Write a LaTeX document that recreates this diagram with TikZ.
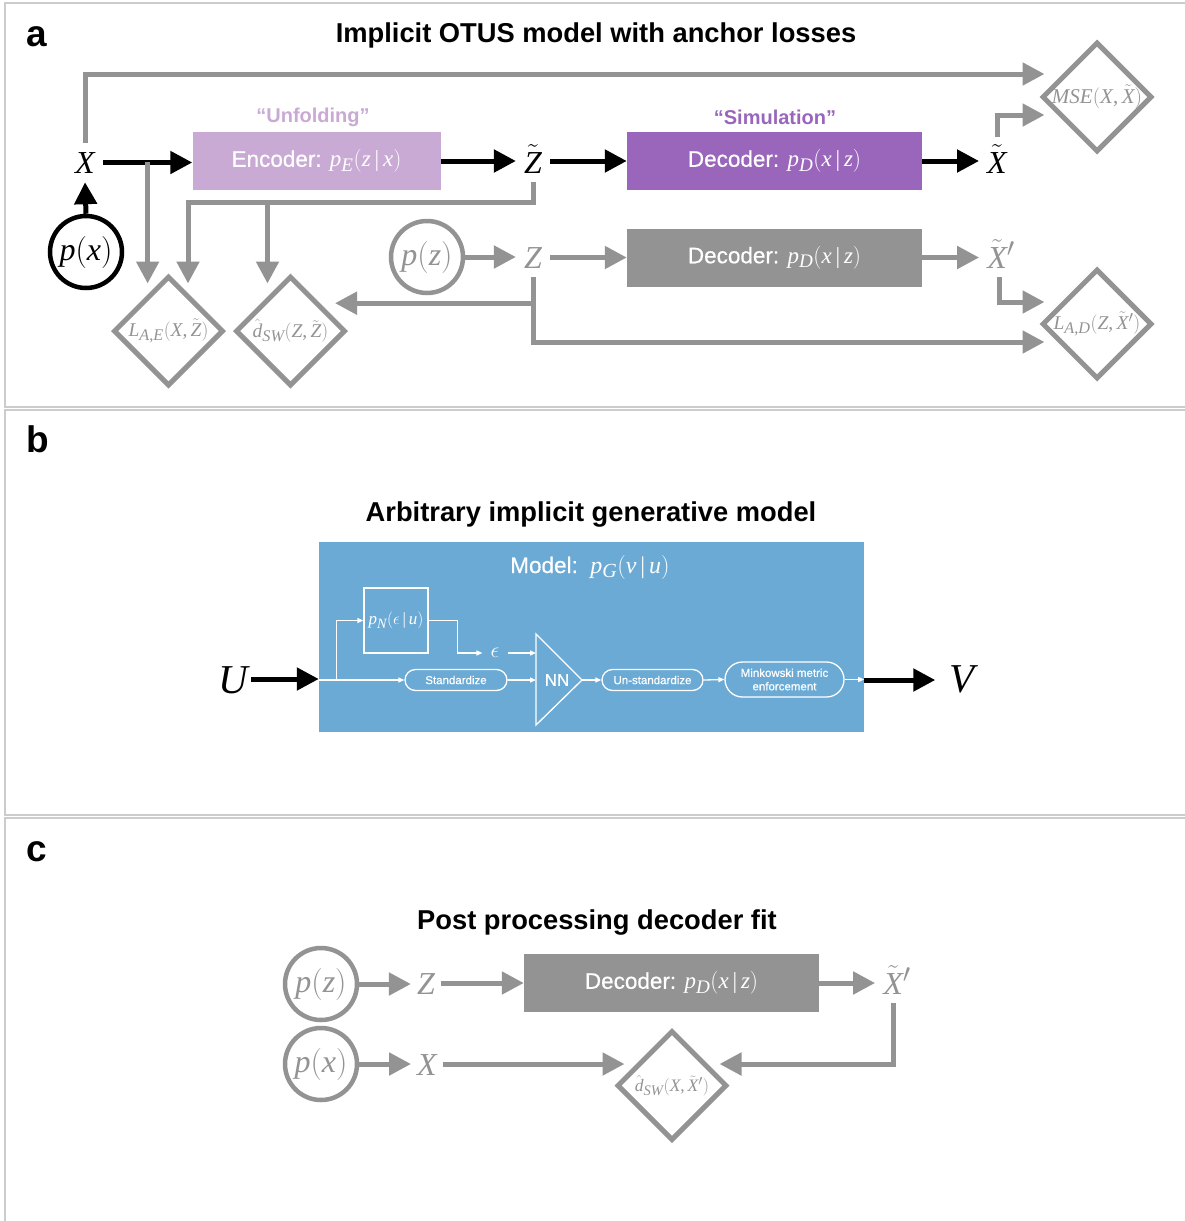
\RequirePackage{fix-cm}
\documentclass[tikz,border=0pt]{standalone}
\usepackage{fontspec}
\setmainfont{Liberation Serif}
\setsansfont{Liberation Sans}
\usepackage[italic]{mathastext}
\usetikzlibrary{arrows.meta,shapes.geometric,calc}

\definecolor{gry}{RGB}{147,147,147}
\definecolor{lilac}{RGB}{200,170,212}
\definecolor{purp}{RGB}{153,102,187}
\definecolor{skyb}{RGB}{107,170,213}
\definecolor{panelgray}{RGB}{204,204,204}

\newcommand\fsz[1]{\fontsize{#1}{#1}\selectfont}
\newcommand\zw[1]{\makebox[0pt]{#1}}
\newcommand\given{\,{|}\,}
\newcommand\medsans{\sffamily\addfontfeature{FakeBold=0.5}}

\tikzset{
  blk/.style={line width=5pt, black, -{Triangle[length=22pt,width=22pt]}},
  garr/.style={line width=5pt, gry, -{Triangle[length=22pt,width=22pt]}},
  warr/.style={line width=1.3pt, white, -{Triangle[length=6pt,width=5pt]}},
  wline/.style={line width=1.3pt, white},
  bigsym/.style={inner xsep=8pt, inner ysep=9pt, text height=21pt, text depth=0pt, font={\fsz{32}}, anchor=base},
  circ/.style={circle, line width=4.5pt, minimum size=72pt, inner sep=0pt, font={\fsz{32}}},
  blockbox/.style={minimum width=295pt, minimum height=58pt, inner sep=0pt, text=white, font={\medsans\fsz{22.5}}},
  dia/.style={diamond, draw=gry, line width=5pt, minimum width=110pt, minimum height=110pt, inner sep=0pt, text=gry, font={\fsz{19.5}}},
  plabel/.style={anchor=base west, inner sep=0pt, font={\sffamily\bfseries\fsz{37}}},
  ttl/.style={anchor=base, inner sep=0pt, font={\sffamily\bfseries\fsz{27.3}}},
  sublbl/.style={inner sep=0pt, font={\sffamily\bfseries\fsz{20}}},
  pill/.style={draw=white, line width=1.3pt, rounded corners=10.5pt, minimum width=102pt, minimum height=21pt, inner sep=0pt, text=white, font={\medsans\fontsize{11.5}{13.5}\selectfont}},
  wbox/.style={draw=white, line width=1.5pt, minimum width=64pt, minimum height=65pt, inner sep=0pt, text=white, font={\fsz{17}}},
  panel/.style={draw=panelgray, line width=1.3pt}
}

\begin{document}
\begin{tikzpicture}[x=1pt,y=-1pt]
\useasboundingbox (0,0) rectangle (1185,1221);

% panel frames
\draw[panel] (5,3) rectangle (1195,407);
\draw[panel] (5,410) rectangle (1195,815);
\draw[panel] (5,818) rectangle (1195,1235);

% ---------------- panel a ----------------
\node[plabel] (la) at (26,46) {a};
\node[ttl] (ta) at (596,42) {Implicit OTUS model with anchor losses};

\node[bigsym] (xa) at (85,173) {$X$};
\node[circ, draw=black] (pxa) at (86,252) {$p(x)$};
\node[blockbox, fill=lilac, minimum width=248pt] (enc) at (316.5,161) {Encoder: {\fsz{23}$p_E(z\given x)$}};
\node[bigsym, text height=27pt] (zta) at (533,173) {$\tilde Z$};
\node[blockbox, fill=purp] (deca) at (774.5,161) {Decoder: {\fsz{23}$p_D(x\given z)$}};
\node[bigsym, text height=27pt] (xta) at (997,173) {$\tilde X$};
\node[sublbl, text=lilac] (unf) at (313,117) {“Unfolding”};
\node[sublbl, text=purp] (sim) at (775,117) {“Simulation”};

\node[dia, font={\fsz{21}}] (mse) at (1097,97) {\zw{$MSE(X,\tilde X)$}};
\node[dia] (lae) at (168.5,331) {\zw{$L_{A,E}(X,\tilde Z)$}};
\node[dia] (dsw) at (290.5,331) {\zw{$\hat d_{SW}(Z,\tilde Z)$}};
\node[dia] (lad) at (1097,324) {\zw{$L_{A,D}(Z,\tilde X')$}};

\node[circ, draw=gry, text=gry] (pza) at (427,257) {$p(z)$};
\node[bigsym, text=gry] (za) at (533,268) {$Z$};
\node[blockbox, fill=gry] (gdec) at (774.5,257.5) {Decoder: {\fsz{23}$p_D(x\given z)$}};
\node[bigsym, text=gry, text height=27pt] (xtpa) at (1001,268) {$\tilde X'$};

% main (black) chain
\draw[blk] (pxa.north) -- (xa.south);
\draw[blk] (xa.east) -- (xa.east -| enc.west);
\draw[blk] (enc.east) -- (enc.east -| zta.west);
\draw[blk] (zta.east |- deca.west) -- (deca.west);
\draw[blk] (deca.east) -- (deca.east -| xta.west);

% loss inputs (grey)
\draw[garr] (xa.north) |- ($(mse.west)+(5,-23)$);
\draw[garr] (xta.north) |- ($(mse.west)+(5,18)$);
\coordinate (br) at ($(xa.east)!0.5!(enc.west)$);
\draw[garr] (br) -- ($(br |- lae.north)+(0,10)$);
\draw[garr] (zta.south) -- ++(0,20.5) -| ($(lae.north)+(19.5,10)$);
\draw[garr] ($(dsw.north)+(-23,-73.5)$) -- ($(dsw.north)+(-23,10)$);

% prior branch
\draw[garr] (pza.east) -- (pza.east -| za.west);
\draw[garr] (za.east |- gdec.west) -- (gdec.west);
\draw[garr] (gdec.east) -- (gdec.east -| xtpa.west);
\draw[garr] ($(xtpa.south)+(-2,0)$) |- ($(lad.west)+(5,-22)$);
\draw[garr] (za.south) |- ($(lad.west)+(5,18)$);
\coordinate (zb) at ($(za.south)+(0,26)$);
\coordinate (dswin) at ($(dsw.east)+(-13,0)$);
\draw[garr] (zb) -- (zb -| dswin);

% ---------------- panel b ----------------
\node[plabel] (lb) at (26,452) {b};
\node[ttl] (tb) at (591,521) {Arbitrary implicit generative model};
\node[fill=skyb, minimum width=545pt, minimum height=190pt, inner sep=0pt] (mdl) at (591.5,637) {};
\node[anchor=base, inner sep=0pt, text=white, font={\medsans\fsz{22.5}}] (mtitle) at (590,573) {Model:\ \ {\fsz{24}$p_G(v\given u)$}};

\node[anchor=base, inner xsep=3pt, inner ysep=9pt, text height=28pt, text depth=0pt, font={\fsz{41}}] (u) at (233,693) {$U$};
\node[anchor=base, inner xsep=14pt, inner ysep=9pt, text height=28pt, text depth=0pt, font={\fsz{41}}] (v) at (962,692) {$V$};
\draw[blk] (u.east) -- (u.east -| mdl.west);

\node[wbox] (pn) at (396,620.5) {$p_N(\epsilon\given u)$};
\node[pill] (std) at (456,680) {Standardize};
\node[pill, minimum width=101pt] (ustd) at (652.5,680) {Un-standardize};
\node[pill, minimum width=119pt, minimum height=35pt, rounded corners=17.5pt, align=center] (mink) at (784.5,679.5) {Minkowski metric\\enforcement};
\node[inner xsep=8pt, inner ysep=2pt, text=white, font={\fsz{22}}] (eps) at (495,653) {$\epsilon$};
\node[inner sep=0pt, text=white, font={\medsans\fsz{17}}] (nn) at (557,680) {NN};
\coordinate (nnl) at ($(nn)+(-21,0)$);
\coordinate (nnr) at ($(nn)+(25,0)$);
\draw[wline, line join=miter] ($(nn)+(-21,-46)$) -- ($(nn)+(-21,45)$) -- (nnr) -- cycle;

\coordinate (uin) at (mdl.west |- std.west);
\coordinate (ubr) at ($(uin)+(18,0)$);
\draw[warr] (uin) -- (std.west);
\draw[warr] (ubr) |- (pn.west);
\draw[warr] (pn.east) -- ++(29,0) |- (eps.west);
\draw[warr] (eps.east) -- (eps.east -| nnl);
\draw[warr] (std.east) -- (nnl |- std.east);
\draw[warr] (nnr) -- (ustd.west);
\draw[warr] (ustd.east) -- (mink.west);
\draw[warr] (mink.east) -- (mink.east -| mdl.east);
\draw[blk] (mdl.east |- std.east) -- (v.west |- std.east);

% ---------------- panel c ----------------
\node[plabel] (lc) at (26,861) {c};
\node[ttl] (tc) at (597,929) {Post processing decoder fit};
\node[circ, draw=gry, text=gry] (pzc) at (321,984) {$p(z)$};
\node[circ, draw=gry, text=gry] (pxc) at (321,1064) {$p(x)$};
\node[bigsym, text=gry, inner xsep=6pt] (zc) at (426,994) {$Z$};
\node[bigsym, text=gry, inner xsep=6pt] (xc) at (427,1075) {$X$};
\node[blockbox, fill=gry] (decc) at (671.5,983) {Decoder: {\fsz{23}$p_D(x\given z)$}};
\node[bigsym, text=gry, text height=27pt] (xtpc) at (897,994) {$\tilde X'$};
\node[dia, font={\fsz{17.5}}] (dswc) at (672,1085.5) {\zw{$\hat d_{SW}(X,\tilde X')$}};

\draw[garr] (pzc.east) -- (pzc.east -| zc.west);
\draw[garr] (zc.east |- decc.west) -- (decc.west);
\draw[garr] (decc.east) -- (decc.east -| xtpc.west);
\draw[garr] (pxc.east) -- (pxc.east -| xc.west);
\coordinate (dswcin) at ($(dswc.west)+(10,-21.5)$);
\draw[garr] (xc.east |- dswcin) -- (dswcin);
\draw[garr] ($(xtpc.south)+(-4,0)$) |- ($(dswc.east)+(-10,-21.5)$);
\end{tikzpicture}
\end{document}
